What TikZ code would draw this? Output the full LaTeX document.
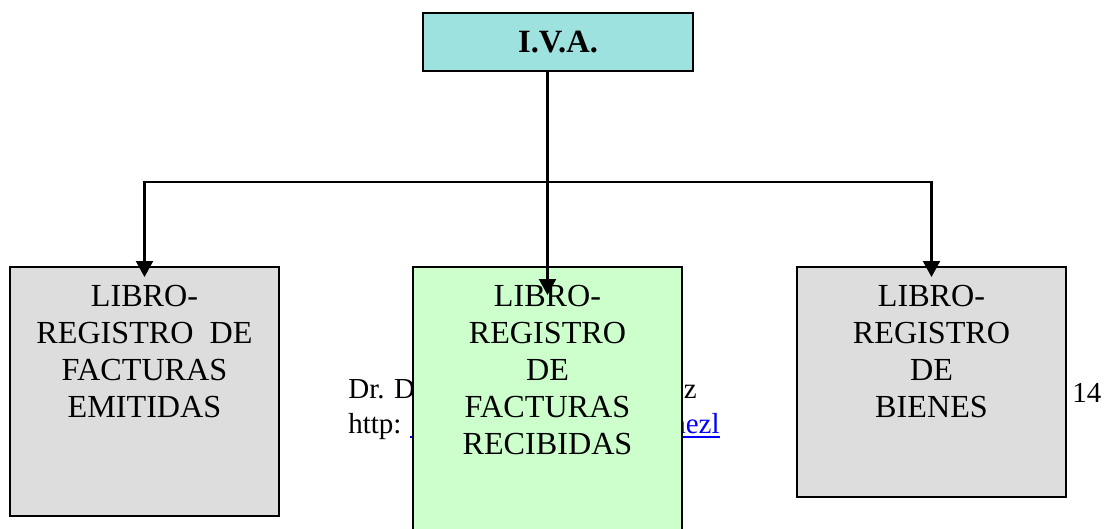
\documentclass[tikz,border=0pt]{standalone}
\usepackage{fontspec}
\setmainfont{Liberation Serif}
\usetikzlibrary{arrows.meta,positioning}

\definecolor{cyaniva}{HTML}{9EE2E0}
\definecolor{grisbox}{HTML}{DDDDDD}
\definecolor{verdebox}{HTML}{CCFFCC}

\tikzset{
  caja/.style={draw, line width=1.3pt, minimum width=5.38cm, anchor=north, inner sep=0pt},
  texto/.style={align=center, anchor=north, inner sep=0pt, font=\fontsize{18.3}{21}\selectfont},
  pie/.style={inner sep=0pt, font=\fontsize{16.5}{19}\selectfont},
  flecha/.style={line width=1.3pt, -{Triangle[length=0.32cm,width=0.34cm]}}
}

\begin{document}
\begin{tikzpicture}[x=0.02cm,y=-0.02cm]
  \useasboundingbox (0,0) rectangle (1109,528);
  \clip (0,0) rectangle (1109,528);

  % pie de pagina, tapado por la caja central
  \node[pie, anchor=base west] (autor) at (348,398) {Dr. D};
  \node[pie, anchor=base east] (autorfin) at (697,398) {z};
  \node[pie, anchor=base west] (web) at (348,433) {http:};
  \node[pie, anchor=base east, text=blue] (enlace) at (720,433) {nezl};
  \draw[blue, line width=0.7pt] (410,437) -- (enlace.base east |- 0,437);
  \node[pie, anchor=base west, font=\fontsize{16.5}{19}\selectfont] (pagina) at (1072,402) {14};

  \node[caja, fill=cyaniva, minimum width=5.4cm, minimum height=1.16cm] (iva) at (558,12)
    {\fontsize{18.5}{21}\selectfont\bfseries I.V.A.};

  \node[caja, fill=grisbox, minimum height=4.98cm] (emitidas) at (144.5,266) {};
  \node[texto] (temitidas) at ([yshift=-0.38cm]emitidas.north)
    {LIBRO-\\REGISTRO~~DE\\FACTURAS\\EMITIDAS};

  \node[caja, fill=verdebox, minimum height=5.6cm] (recibidas) at (547.5,266) {};
  \node[texto] (trecibidas) at ([yshift=-0.38cm]recibidas.north)
    {LIBRO-\\REGISTRO\\DE\\FACTURAS\\RECIBIDAS};

  \node[caja, fill=grisbox, minimum height=4.6cm] (bienes) at (931.5,266) {};
  \node[texto] (tbienes) at ([yshift=-0.38cm]bienes.north)
    {LIBRO-\\REGISTRO\\DE\\BIENES};

  % conectores
  \coordinate (rama) at (547,182);
  \draw[flecha] (rama) -| ([yshift=-0.22cm]emitidas.north);
  \draw[flecha] (rama) -| ([yshift=-0.22cm]bienes.north);
  \draw[flecha] (iva.south -| recibidas.north) -- ([yshift=-0.58cm]recibidas.north);
\end{tikzpicture}
\end{document}
